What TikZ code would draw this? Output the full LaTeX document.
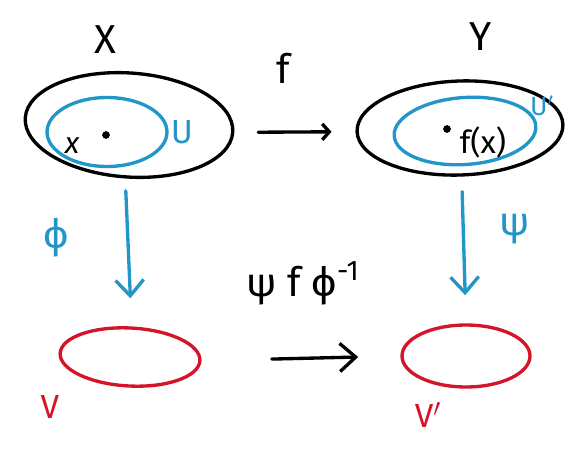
\documentclass[tikz,border=0pt]{standalone}
\usepackage{fontspec}
\setmainfont{Fira Sans}
\usetikzlibrary{shapes.geometric,arrows.meta}
\definecolor{hblue}{RGB}{35,150,200}
\definecolor{hred}{RGB}{212,20,40}
\tikzset{
  pen/.style={line width=1.9pt, line cap=round, line join=round},
  blob/.style={pen, ellipse, draw, inner sep=0pt},
  lbl/.style={font=\fontsize{23}{27}\selectfont, inner sep=0pt},
  slbl/.style={font=\fontsize{17}{20}\selectfont, inner sep=0pt},
  barb/.style={-{Straight Barb[length=9pt,width=16pt,line width=1.9pt]}},
}
\begin{document}
\begin{tikzpicture}[x=0.02cm,y=-0.02cm]
\useasboundingbox (0,0) rectangle (574,456);
% top sets
\node[blob, black, minimum width=4.16cm, minimum height=2.08cm, rotate=-4] (X) at (129,125) {};
\node[blob, hblue, minimum width=2.40cm, minimum height=1.38cm] (U) at (107,132) {};
\node[blob, black, minimum width=4.12cm, minimum height=1.88cm, rotate=2] (Y) at (460,128) {};
\node[blob, hblue, minimum width=2.84cm, minimum height=1.34cm, rotate=4] (U2) at (465,131) {};
% bottom sets
\node[blob, hred, minimum width=2.80cm, minimum height=1.16cm, rotate=-3] (V) at (130,357) {};
\node[blob, hred, minimum width=2.56cm, minimum height=1.24cm] (V2) at (466,356) {};
% labels
\node[lbl] (lX) at (105,40) {X};
\node[lbl] (lY) at (481,37) {Y};
\node[lbl] (lf) at (283,68) {f};
\node[slbl] (lx) at (72,146) {\itshape x};
\fill (106,135) circle (2.2pt) coordinate (px);
\node[lbl, hblue, font=\fontsize{19}{22}\selectfont] (lU) at (182,132) {U};
\fill (447,129) circle (2.2pt) coordinate (pfx);
\node[slbl, font=\fontsize{18}{21}\selectfont] (lfx) at (483,142) {f(x)};
\node[hblue, font=\fontsize{15}{17}\selectfont, inner sep=0pt] (lU2) at (542,106) {U$'$};
\node[lbl, hblue] (lphi) at (56,238) {ϕ};
\node[lbl, hblue] (lpsi) at (515,229) {ψ};
\node[lbl] (lcomp) at (303,283) {ψ f ϕ\textsuperscript{-1}};
\node[lbl, hred, font=\fontsize{19}{22}\selectfont] (lV) at (50,407) {V};
\node[lbl, hred, font=\fontsize{19}{22}\selectfont] (lV2) at (428,415) {V$'$};
% arrows
\draw[pen, -{Straight Barb[length=4pt,width=9pt,line width=1.9pt]}, shorten <=13.6pt, shorten >=13.6pt] (X.east) -- (Y.west);
\draw[pen, barb, hblue, shorten <=7pt, shorten >=16pt] (X.south) -- (V.north);
\draw[pen, barb, hblue, shorten <=8.5pt, shorten >=16pt] (Y.south) -- (V2.north);
\draw[pen, barb, shorten <=40pt, shorten >=24pt] (V.east) -- (V2.west);
\end{tikzpicture}
\end{document}
